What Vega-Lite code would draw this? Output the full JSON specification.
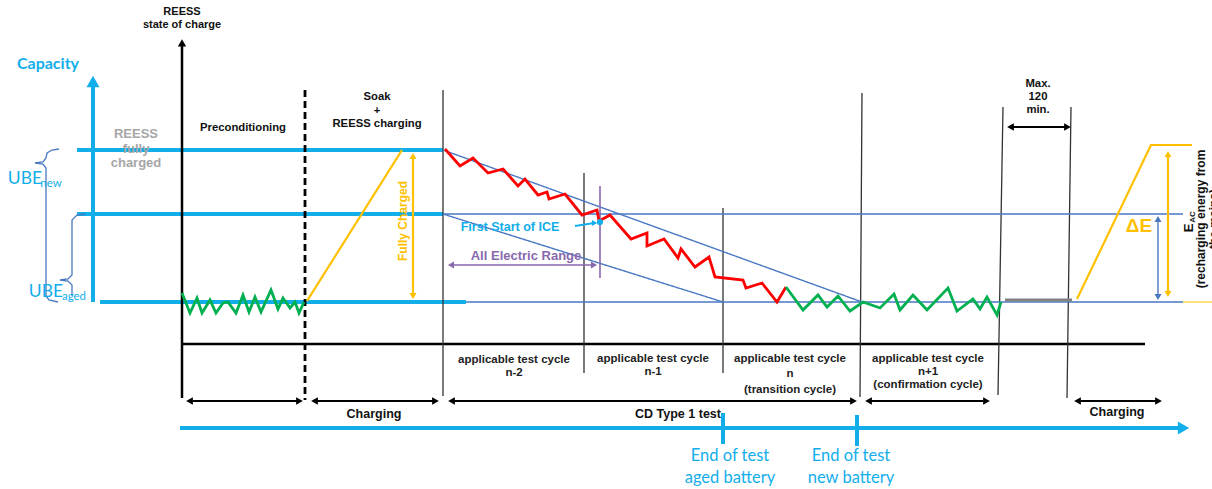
{
"$schema": "https://vega.github.io/schema/vega-lite/v6.json",
"width": 1212, "height": 489, "autosize": {"type": "none"}, "padding": 0,
"background": "white",
"config": {"view": {"stroke": null}},
"resolve": {"scale": {"color": "independent", "size": "independent", "strokeWidth": "independent", "shape": "independent", "strokeDash": "independent"}},
"datasets": {
"segs": [
{"x":93,"y":302,"x2":93,"y2":84,"kind":"cap"},
{"x":77,"y":150,"x2":443,"y2":150,"kind":"cap"},
{"x":77,"y":214,"x2":443,"y2":214,"kind":"cap"},
{"x":100,"y":302,"x2":466,"y2":302,"kind":"cap"},
{"x":180,"y":428,"x2":1182,"y2":428,"kind":"cap"},
{"x":723,"y":413,"x2":723,"y2":444,"kind":"cap"},
{"x":857,"y":415,"x2":857,"y2":446,"kind":"cap"},
{"x":182,"y":45,"x2":182,"y2":398,"kind":"axis"},
{"x":182,"y":344,"x2":1145,"y2":344,"kind":"axis"},
{"x":443,"y":90,"x2":443,"y2":396,"kind":"thin"},
{"x":584,"y":173,"x2":584,"y2":373,"kind":"thin"},
{"x":723,"y":208,"x2":723,"y2":373,"kind":"thin"},
{"x":862,"y":93,"x2":860,"y2":397,"kind":"thin"},
{"x":1003,"y":107,"x2":998,"y2":395,"kind":"thin"},
{"x":1071,"y":107,"x2":1067,"y2":398,"kind":"thin"},
{"x":305,"y":90,"x2":305,"y2":400,"kind":"dash"},
{"x":443,"y":214,"x2":1183,"y2":214,"kind":"steel"},
{"x":466,"y":302,"x2":1183,"y2":302,"kind":"steel"},
{"x":443,"y":150,"x2":862,"y2":302,"kind":"steel"},
{"x":443,"y":214,"x2":723,"y2":302,"kind":"steel"},
{"x":1158,"y":220,"x2":1158,"y2":296,"kind":"steel"},
{"x":307,"y":301,"x2":402,"y2":150,"kind":"yellow"},
{"x":1077,"y":299,"x2":1151,"y2":145,"kind":"yellow"},
{"x":1150,"y":145,"x2":1192,"y2":145,"kind":"yellow"},
{"x":1183,"y":302,"x2":1212,"y2":302,"kind":"ythin"},
{"x":413,"y":157,"x2":413,"y2":295,"kind":"yellow"},
{"x":1168,"y":155,"x2":1168,"y2":293,"kind":"yellow"},
{"x":600,"y":186,"x2":600,"y2":278,"kind":"purple"},
{"x":451,"y":265,"x2":594,"y2":265,"kind":"purple"},
{"x":1005,"y":300,"x2":1072,"y2":300,"kind":"grey"},
{"x":190,"y":401,"x2":299,"y2":401,"kind":"blk"},
{"x":315,"y":401,"x2":435,"y2":401,"kind":"blk"},
{"x":452,"y":401,"x2":853,"y2":401,"kind":"blk"},
{"x":869,"y":401,"x2":986,"y2":401,"kind":"blk"},
{"x":1078,"y":401,"x2":1158,"y2":401,"kind":"blk"},
{"x":1011,"y":127,"x2":1067,"y2":127,"kind":"blk"},
{"x":575,"y":226,"x2":594,"y2":223,"kind":"ice"}
],
"polys": [
{"series":"pre","i":0,"x":182,"y":293},{"series":"pre","i":1,"x":190,"y":313},{"series":"pre","i":2,"x":197,"y":298},{"series":"pre","i":3,"x":202,"y":313},{"series":"pre","i":4,"x":210,"y":300},{"series":"pre","i":5,"x":216,"y":313},{"series":"pre","i":6,"x":223,"y":303},{"series":"pre","i":7,"x":228,"y":302},{"series":"pre","i":8,"x":236,"y":313},{"series":"pre","i":9,"x":243,"y":295},{"series":"pre","i":10,"x":249,"y":312},{"series":"pre","i":11,"x":255,"y":297},{"series":"pre","i":12,"x":261,"y":312},{"series":"pre","i":13,"x":271,"y":290},{"series":"pre","i":14,"x":278,"y":309},{"series":"pre","i":15,"x":283,"y":298},{"series":"pre","i":16,"x":290,"y":308},{"series":"pre","i":17,"x":295,"y":302},{"series":"pre","i":18,"x":299,"y":313},{"series":"pre","i":19,"x":304,"y":302},
{"series":"red","i":0,"x":445,"y":149},{"series":"red","i":1,"x":460,"y":166},{"series":"red","i":2,"x":473,"y":158},{"series":"red","i":3,"x":488,"y":173},{"series":"red","i":4,"x":503,"y":169},{"series":"red","i":5,"x":518,"y":186},{"series":"red","i":6,"x":525,"y":179},{"series":"red","i":7,"x":538,"y":195},{"series":"red","i":8,"x":547,"y":192},{"series":"red","i":9,"x":549,"y":199},{"series":"red","i":10,"x":565,"y":194},{"series":"red","i":11,"x":582,"y":215},{"series":"red","i":12,"x":597,"y":210},{"series":"red","i":13,"x":599,"y":221},{"series":"red","i":14,"x":610,"y":215},{"series":"red","i":15,"x":631,"y":239},{"series":"red","i":16,"x":647,"y":233},{"series":"red","i":17,"x":647,"y":246},{"series":"red","i":18,"x":664,"y":239},{"series":"red","i":19,"x":678,"y":258},{"series":"red","i":20,"x":681,"y":249},{"series":"red","i":21,"x":695,"y":267},{"series":"red","i":22,"x":709,"y":257},{"series":"red","i":23,"x":715,"y":277},{"series":"red","i":24,"x":743,"y":280},{"series":"red","i":25,"x":746,"y":288},{"series":"red","i":26,"x":762,"y":283},{"series":"red","i":27,"x":777,"y":302},{"series":"red","i":28,"x":786,"y":287},
{"series":"post","i":0,"x":786,"y":287},{"series":"post","i":1,"x":803,"y":310},{"series":"post","i":2,"x":818,"y":295},{"series":"post","i":3,"x":827,"y":307},{"series":"post","i":4,"x":838,"y":296},{"series":"post","i":5,"x":850,"y":311},{"series":"post","i":6,"x":863,"y":302},{"series":"post","i":7,"x":880,"y":308},{"series":"post","i":8,"x":894,"y":294},{"series":"post","i":9,"x":900,"y":310},{"series":"post","i":10,"x":913,"y":295},{"series":"post","i":11,"x":927,"y":310},{"series":"post","i":12,"x":948,"y":288},{"series":"post","i":13,"x":957,"y":311},{"series":"post","i":14,"x":973,"y":299},{"series":"post","i":15,"x":980,"y":309},{"series":"post","i":16,"x":987,"y":297},{"series":"post","i":17,"x":997,"y":315},{"series":"post","i":18,"x":1001,"y":302},
{"series":"brace1","i":0,"x":59,"y":149},{"series":"brace1","i":1,"x":52,"y":150},{"series":"brace1","i":2,"x":47,"y":153},{"series":"brace1","i":3,"x":46,"y":158},{"series":"brace1","i":4,"x":43,"y":162},{"series":"brace1","i":5,"x":35,"y":163},{"series":"brace1","i":6,"x":43,"y":164},{"series":"brace1","i":7,"x":46,"y":168},{"series":"brace1","i":8,"x":46,"y":296},{"series":"brace1","i":9,"x":49,"y":300},{"series":"brace1","i":10,"x":58,"y":302},
{"series":"brace2","i":0,"x":85,"y":214},{"series":"brace2","i":1,"x":77,"y":215},{"series":"brace2","i":2,"x":72,"y":220},{"series":"brace2","i":3,"x":72,"y":275},{"series":"brace2","i":4,"x":68,"y":279},{"series":"brace2","i":5,"x":60,"y":280},{"series":"brace2","i":6,"x":68,"y":281},{"series":"brace2","i":7,"x":72,"y":285},{"series":"brace2","i":8,"x":72,"y":296}
],
"heads": [
{"x":93,"y":81.5,"dir":"up","kind":"cap"},
{"x":182,"y":42.8,"dir":"up","kind":"axis"},
{"x":1183.5,"y":428,"dir":"right","kind":"cap"},
{"x":189.5,"y":401,"dir":"left","kind":"blk"},{"x":299.5,"y":401,"dir":"right","kind":"blk"},
{"x":314.5,"y":401,"dir":"left","kind":"blk"},{"x":435.5,"y":401,"dir":"right","kind":"blk"},
{"x":451.5,"y":401,"dir":"left","kind":"blk"},{"x":853.5,"y":401,"dir":"right","kind":"blk"},
{"x":868.5,"y":401,"dir":"left","kind":"blk"},{"x":986.5,"y":401,"dir":"right","kind":"blk"},
{"x":1077.5,"y":401,"dir":"left","kind":"blk"},{"x":1158.5,"y":401,"dir":"right","kind":"blk"},
{"x":1010.5,"y":127,"dir":"left","kind":"blk"},{"x":1067.5,"y":127,"dir":"right","kind":"blk"},
{"x":413,"y":156,"dir":"up","kind":"yellow"},{"x":413,"y":296,"dir":"down","kind":"yellow"},
{"x":1168,"y":154,"dir":"up","kind":"yellow"},{"x":1168,"y":294,"dir":"down","kind":"yellow"},
{"x":1158,"y":219,"dir":"up","kind":"steel"},{"x":1158,"y":297,"dir":"down","kind":"steel"},
{"x":451,"y":265,"dir":"left","kind":"purple"},{"x":594,"y":265,"dir":"right","kind":"purple"},
{"x":594.6,"y":223,"dir":"right","kind":"ice"},
{"x":600,"y":222,"dir":"dot","kind":"ice"}
],
"labels": [
{"x":182,"y":12,"text":"REESS","role":"axislabel"},
{"x":182,"y":25,"text":"state of charge","role":"axislabel"},
{"x":136,"y":134,"text":"REESS","role":"greylbl"},
{"x":136,"y":149,"text":"fully","role":"greylbl"},
{"x":136,"y":163,"text":"charged","role":"greylbl"},
{"x":243,"y":128,"text":"Preconditioning","role":"phase"},
{"x":377,"y":97,"text":"Soak","role":"phase"},
{"x":377,"y":111,"text":"+","role":"phase"},
{"x":377,"y":124,"text":"REESS charging","role":"phase"},
{"x":1038,"y":84,"text":"Max.","role":"phase"},
{"x":1038,"y":97,"text":"120","role":"phase"},
{"x":1038,"y":110,"text":"min.","role":"phase"},
{"x":514,"y":360,"text":"applicable test cycle","role":"cycle"},
{"x":514,"y":373,"text":"n-2","role":"cycle"},
{"x":653,"y":359,"text":"applicable test cycle","role":"cycle"},
{"x":653,"y":372,"text":"n-1","role":"cycle"},
{"x":790,"y":359,"text":"applicable test cycle","role":"cycle"},
{"x":790,"y":374,"text":"n","role":"cycle"},
{"x":790,"y":390,"text":"(transition cycle)","role":"cycle"},
{"x":928,"y":359,"text":"applicable test cycle","role":"cycle"},
{"x":928,"y":372,"text":"n+1","role":"cycle"},
{"x":928,"y":385,"text":"(confirmation cycle)","role":"cycle"},
{"x":374,"y":414,"text":"Charging","role":"span"},
{"x":678,"y":414,"text":"CD Type 1 test","role":"span"},
{"x":1117,"y":412,"text":"Charging","role":"span"},
{"x":510,"y":227,"text":"First Start of ICE","role":"ice"},
{"x":526,"y":256,"text":"All Electric Range","role":"aer"},
{"x":1139,"y":226,"text":"ΔE","role":"de"}
],
"cal": [
{"x":25,"y":179,"text":"UBE","role":"ube"},
{"x":51,"y":184,"text":"new","role":"sub"},
{"x":46,"y":292,"text":"UBE","role":"ube"},
{"x":74,"y":297,"text":"aged","role":"sub"},
{"x":730,"y":456,"text":"End of test","role":"eot"},
{"x":730,"y":478,"text":"aged battery","role":"eot"},
{"x":851,"y":456,"text":"End of test","role":"eot"},
{"x":851,"y":478,"text":"new battery","role":"eot"}
],
"title": [
{"x":48,"y":64,"text":"Capacity"}
],
"rot": [
{"x":403,"y":221,"text":"Fully Charged","role":"fc"},
{"x":1189,"y":228,"text":"E","role":"eac"},
{"x":1193,"y":217,"text":"AC","role":"eacsub"},
{"x":1201,"y":219,"text":"(recharging energy from","role":"eacdesc"},
{"x":1214,"y":219,"text":"the mains)","role":"eacdesc"}
]
},
"encoding": {
"x": {"field":"x","type":"quantitative","scale":{"domain":[0,1212],"nice":false,"zero":false},"axis":null},
"y": {"field":"y","type":"quantitative","scale":{"domain":[0,489],"reverse":true,"nice":false,"zero":false},"axis":null}
},
"layer": [
{"data":{"name":"segs"},"mark":{"type":"rule"},
 "encoding":{
  "x2":{"field":"x2"},"y2":{"field":"y2"},
  "color":{"field":"kind","type":"nominal","legend":null,"scale":{"domain":["cap","axis","thin","dash","steel","yellow","ythin","purple","grey","blk","ice"],"range":["#12AEEA","#000000","#333333","#000000","#4A78C2","#FFC000","#FFC000","#8868AD","#808080","#000000","#12AEEA"]}},
  "strokeWidth":{"field":"kind","type":"nominal","legend":null,"scale":{"type":"ordinal","domain":["cap","axis","thin","dash","steel","yellow","ythin","purple","grey","blk","ice"],"range":[4,2.5,1.3,2.8,1.4,2.2,1,1.6,3.2,2,2]}},
  "strokeDash":{"field":"kind","type":"nominal","legend":null,"scale":{"domain":["cap","axis","thin","dash","steel","yellow","ythin","purple","grey","blk","ice"],"range":[[1,0],[1,0],[1,0],[7,4],[1,0],[1,0],[1,0],[1,0],[1,0],[1,0],[1,0]]}}
 }},
{"data":{"name":"polys"},"mark":{"type":"line","strokeJoin":"miter"},
 "encoding":{
  "detail":{"field":"series","type":"nominal"},
  "order":{"field":"i","type":"quantitative"},
  "color":{"field":"series","type":"nominal","legend":null,"scale":{"domain":["pre","red","post","brace1","brace2"],"range":["#00B050","#FF0000","#00B050","#4A78C2","#4A78C2"]}},
  "strokeWidth":{"field":"series","type":"nominal","legend":null,"scale":{"type":"ordinal","domain":["pre","red","post","brace1","brace2"],"range":[2.8,2.8,2.8,1.3,1.3]}}
 }},
{"data":{"name":"heads"},"mark":{"type":"point","filled":true,"opacity":1,"strokeWidth":0},
 "encoding":{
  "shape":{"field":"dir","type":"nominal","legend":null,"scale":{"domain":["up","down","left","right","dot"],"range":["triangle-up","triangle-down","triangle-left","triangle-right","circle"]}},
  "color":{"field":"kind","type":"nominal","legend":null,"scale":{"domain":["cap","axis","blk","yellow","steel","purple","ice"],"range":["#12AEEA","#000000","#000000","#FFC000","#4A78C2","#8868AD","#12AEEA"]}},
  "size":{"field":"kind","type":"nominal","legend":null,"scale":{"type":"ordinal","domain":["cap","axis","blk","yellow","steel","purple","ice"],"range":[170,70,60,50,50,50,38]}}
 }},
{"data":{"name":"labels"},"mark":{"type":"text","font":"Liberation Sans","fontWeight":"bold","align":"center","baseline":"middle"},
 "encoding":{
  "text":{"field":"text"},
  "color":{"field":"role","type":"nominal","legend":null,"scale":{"domain":["axislabel","greylbl","phase","cycle","span","ice","aer","de"],"range":["#111111","#A6A6A6","#111111","#222222","#111111","#12AEEA","#8868AD","#FFC000"]}},
  "size":{"field":"role","type":"nominal","legend":null,"scale":{"type":"ordinal","domain":["axislabel","greylbl","phase","cycle","span","ice","aer","de"],"range":[11,13,11.3,11.5,12.5,12.5,13,19]}}
 }},
{"data":{"name":"cal"},"mark":{"type":"text","font":"Lato","align":"center","baseline":"middle"},
 "encoding":{
  "text":{"field":"text"},
  "color":{"value":"#12AEEA"},
  "size":{"field":"role","type":"nominal","legend":null,"scale":{"type":"ordinal","domain":["ube","sub","eot"],"range":[17.5,11.5,16.5]}}
 }},
{"data":{"name":"title"},"mark":{"type":"text","font":"Lato","fontWeight":"bold","fontSize":16,"align":"center","baseline":"middle","color":"#12AEEA"},
 "encoding":{"text":{"field":"text"}}},
{"data":{"name":"rot"},"mark":{"type":"text","font":"Liberation Sans","fontWeight":"bold","align":"center","baseline":"middle","angle":270},
 "encoding":{
  "text":{"field":"text"},
  "color":{"field":"role","type":"nominal","legend":null,"scale":{"domain":["fc","eac","eacsub","eacdesc"],"range":["#FFC000","#111111","#111111","#111111"]}},
  "size":{"field":"role","type":"nominal","legend":null,"scale":{"type":"ordinal","domain":["fc","eac","eacsub","eacdesc"],"range":[12,13,8,12]}}
 }}
]
}
